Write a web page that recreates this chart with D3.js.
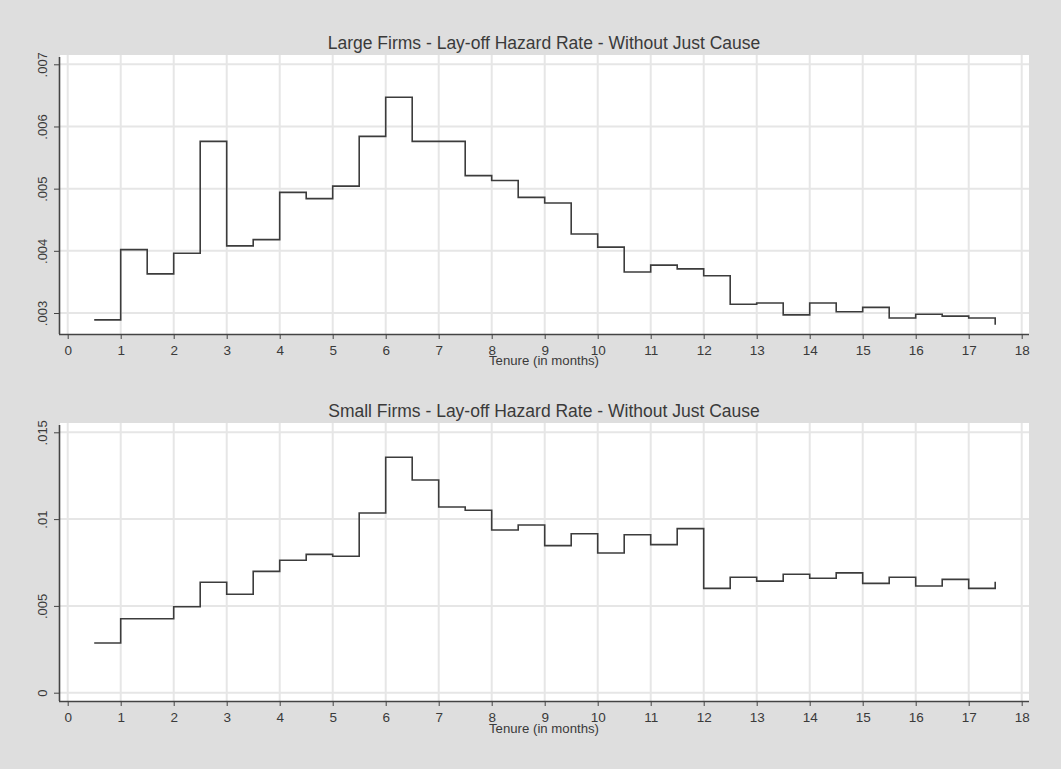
<!DOCTYPE html>
<html>
<head>
<meta charset="utf-8">
<script src="https://cdn.jsdelivr.net/npm/d3@7"></script>
<style>
  body { margin: 0; background: #dedede; }
  svg { display: block; font-family: "Liberation Sans", Arial, sans-serif; }
</style>
</head>
<body>
<svg id="chart" width="1061" height="769"></svg>
<script>
// tenure points (months), one value every half month, step plot
const tenure = d3.range(0.5, 17.51, 0.5);

const largeHazard = [
  .00289, .00402, .00363, .00396, .00576, .00408, .00418, .00494, .00484, .00504,
  .00584, .00647, .00576, .00576, .00521, .00513, .00486, .00477, .00427, .00406,
  .00366, .00377, .00371, .00360, .00314, .00316, .00297, .00316, .00302, .00309,
  .00292, .00298, .00295, .00292, .00281
];

const smallHazard = [
  .00286, .00426, .00426, .00495, .00636, .00567, .00699, .00763, .00797, .00786,
  .01035, .01356, .01225, .01070, .01051, .00937, .00966, .00847, .00916, .00805,
  .00910, .00853, .00945, .00601, .00665, .00643, .00682, .00659, .00690, .00630,
  .00665, .00615, .00653, .00601, .00639
];

const xTicks = d3.range(0, 19, 1);
const largeTicks = [.003, .004, .005, .006, .007];
const smallTicks = [0, .005, .01, .015];

const titles = [
  "Large Firms - Lay-off Hazard Rate - Without Just Cause",
  "Small Firms - Lay-off Hazard Rate - Without Just Cause"
];
const xTitle = "Tenure (in months)";

const svg = d3.select("#chart");

// strip the leading zero the way Stata prints it
const fmt = d => d === 0 ? "0" : String(d).replace(/^0/, "");

function drawPanel(p) {
  let g = svg.append("g");

  let x = d3.scaleLinear().domain([0, 18]).range([67.7, 1021.7]);
  let y = d3.scaleLinear().domain(p.domain).range(p.yRange);

  // white plot region
  g.append("rect")
    .attr("x", 60).attr("y", p.top)
    .attr("width", 969).attr("height", p.bottom - p.top)
    .attr("fill", "#fff");

  // grid
  g.append("g").selectAll("line.v")
    .data(xTicks)
    .enter().append("line")
      .attr("x1", d => x(d)).attr("x2", d => x(d))
      .attr("y1", p.top).attr("y2", p.bottom)
      .attr("stroke", "#e6e6e6").attr("stroke-width", 2);

  g.append("g").selectAll("line.h")
    .data(p.ticks)
    .enter().append("line")
      .attr("x1", 60).attr("x2", 1029)
      .attr("y1", d => y(d)).attr("y2", d => y(d))
      .attr("stroke", "#e6e6e6").attr("stroke-width", 2);

  // axes
  let xAxis = d3.axisBottom(x).tickValues(xTicks).tickSize(5).tickPadding(6).tickFormat(d3.format("d"));
  let gx = g.append("g")
    .attr("transform", `translate(0,${p.bottom})`)
    .call(xAxis);
  gx.select(".domain").attr("d", `M59,0.5H1029`).attr("stroke", "#444").attr("stroke-width", 1.6);
  gx.selectAll(".tick line").attr("stroke", "#444");
  gx.selectAll(".tick text")
    .attr("fill", "#3a3a3a")
    .style("font-size", "13.5px")
    .style("font-family", "Liberation Sans, Arial, sans-serif");

  let yAxis = d3.axisLeft(y).tickValues(p.ticks).tickSize(5).tickFormat(fmt);
  let gy = g.append("g")
    .attr("transform", "translate(59,0)")
    .call(yAxis);
  gy.select(".domain").attr("d", `M0.5,${p.top + 2}V${p.bottom}`).attr("stroke", "#444").attr("stroke-width", 1.6);
  gy.selectAll(".tick line").attr("stroke", "#444");
  gy.selectAll(".tick text")
    .attr("x", null).attr("dy", null)
    .attr("transform", "translate(-12,0) rotate(-90)")
    .attr("text-anchor", "middle")
    .attr("fill", "#3a3a3a")
    .style("font-size", "13px")
    .style("font-family", "Liberation Sans, Arial, sans-serif");

  // hazard step line
  let line = d3.line()
    .x((d, i) => x(tenure[i]))
    .y(d => y(d))
    .curve(d3.curveStepAfter);

  g.append("path")
    .datum(p.values)
    .attr("d", line)
    .attr("fill", "none")
    .attr("stroke", "#3c3c3c")
    .attr("stroke-width", 1.6);

  // titles
  g.append("text")
    .attr("x", 544).attr("y", p.titleY)
    .attr("text-anchor", "middle")
    .attr("fill", "#3a3a3a")
    .style("font-size", "17.5px")
    .text(p.title);

  g.append("text")
    .attr("x", 544).attr("y", p.xTitleY)
    .attr("text-anchor", "middle")
    .attr("fill", "#3a3a3a")
    .style("font-size", "13.2px")
    .text(xTitle);
}

drawPanel({
  values: largeHazard,
  domain: [.003, .007],
  yRange: [313, 64.3],
  ticks: largeTicks,
  top: 55, bottom: 334,
  title: titles[0], titleY: 49,
  xTitleY: 365
});

drawPanel({
  values: smallHazard,
  domain: [0, .015],
  yRange: [692.7, 432.3],
  ticks: smallTicks,
  top: 423, bottom: 701,
  title: titles[1], titleY: 416.5,
  xTitleY: 733
});
</script>
</body>
</html>
